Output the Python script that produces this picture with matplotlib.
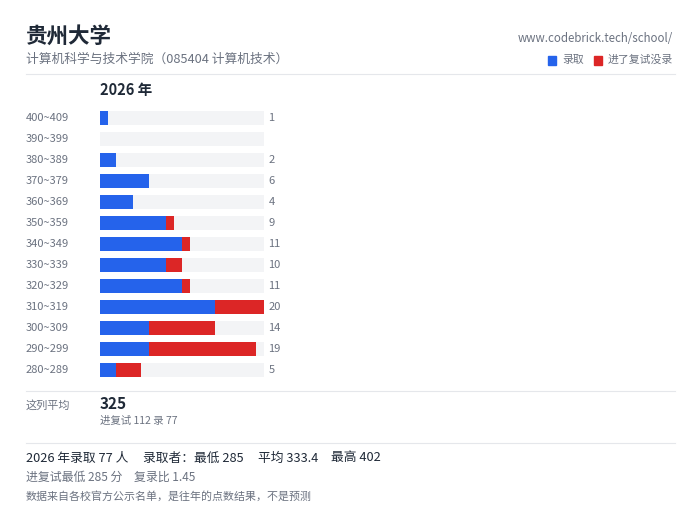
import matplotlib
matplotlib.use('Agg')
import matplotlib.pyplot as plt
from matplotlib.patches import Rectangle
from matplotlib.lines import Line2D

plt.rcParams['font.family'] = ['Noto Sans CJK SC', 'DejaVu Sans']

# 分数段、录取人数、进复试没录人数
bins = ['400~409', '390~399', '380~389', '370~379', '360~369', '350~359', '340~349',
        '330~339', '320~329', '310~319', '300~309', '290~299', '280~289']
admitted = [1, 0, 2, 6, 4, 8, 10, 8, 10, 14, 6, 6, 2]
rejected = [0, 0, 0, 0, 0, 1, 1, 2, 1, 6, 8, 13, 3]
x_max = 20

BLUE = '#2563eb'
RED = '#dc2626'
TRACK = '#f3f4f6'
DARK = '#1f2937'
GRAY = '#6b7280'
LINE = '#e5e7eb'

W, H = 700, 525
fig = plt.figure(figsize=(7, 5.25), dpi=100)


def px(x, y):
    return x / W, 1 - y / H


def text(x, y, s, **kw):
    fx, fy = px(x, y)
    kw.setdefault('va', 'center')
    fig.text(fx, fy, s, **kw)


def hline(y, x0=26, x1=675):
    a, b = px(x0, y)
    c, _ = px(x1, y)
    fig.add_artist(Line2D([a, c], [b, b], color=LINE, lw=0.8, transform=fig.transFigure))


# 标题
text(26, 36, '贵州大学', fontsize=15.5, fontweight='bold', color=DARK)
text(26, 59, '计算机科学与技术学院（085404 计算机技术）', fontsize=9.2, color=GRAY)
text(673, 39, 'www.codebrick.tech/school/', fontsize=8.3, color=GRAY, ha='right')

# 图例
for x0, c, lab in [(548, BLUE, '录取'), (594, RED, '进了复试没录')]:
    fx, fy = px(x0, 65)
    fig.add_artist(Rectangle((fx, fy), 8 / W, 9 / H, color=c, transform=fig.transFigure))
    text(x0 + 14, 60, lab, fontsize=7.8, color=GRAY)

hline(74)
text(100, 90, '2026 年', fontsize=10.5, fontweight='bold', color=DARK)

# 条形图
top, bottom = 107.5, 380.5
ax = fig.add_axes([100 / W, 1 - bottom / H, 164 / W, (bottom - top) / H])
n = len(bins)
ys = list(range(n))
ax.barh(ys, [x_max] * n, height=0.62, color=TRACK)
ax.barh(ys, admitted, height=0.62, color=BLUE)
ax.barh(ys, rejected, left=admitted, height=0.62, color=RED)
ax.set_xlim(0, x_max)
ax.set_ylim(n - 0.5, -0.5)
ax.axis('off')

for i, b in enumerate(bins):
    ax.text(-74 / 8.2, i, b, fontsize=8, color=GRAY, va='center', ha='left')
    tot = admitted[i] + rejected[i]
    if tot:
        ax.text(x_max + 4.5 / 8.2, i, str(tot), fontsize=8, color=GRAY, va='center', ha='left')

hline(391)
text(26, 405, '这列平均', fontsize=8, color=GRAY)
text(100, 404, '325', fontsize=11, fontweight='bold', color=DARK)
text(100, 421, '进复试 112 录 77', fontsize=7.5, color=GRAY)

hline(443)
text(26, 458, '2026 年录取 77 人', fontsize=9.2, color=DARK)
text(143, 458, '录取者：最低 285', fontsize=9.2, color=DARK)
text(258, 458, '平均 333.4', fontsize=9.2, color=DARK)
text(331, 458, '最高 402', fontsize=9.2, color=DARK)
text(26, 477, '进复试最低 285 分', fontsize=8.6, color=GRAY)
text(134, 477, '复录比 1.45', fontsize=8.6, color=GRAY)
text(26, 496, '数据来自各校官方公示名单，是往年的点数结果，不是预测', fontsize=7.9, color=GRAY)

fig.savefig('out.png', dpi=100, facecolor='white')
